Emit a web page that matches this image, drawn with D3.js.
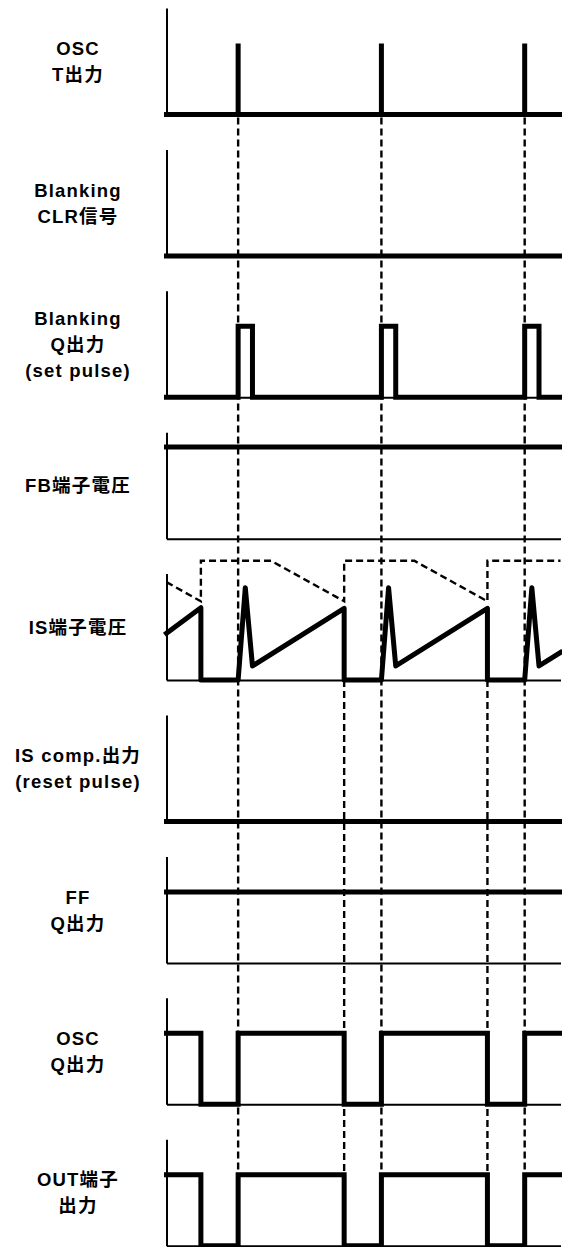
<!DOCTYPE html>
<html>
<head>
<meta charset="utf-8">
<script src="https://cdn.jsdelivr.net/npm/d3@7"></script>
<style>
  html, body { margin: 0; padding: 0; background: #fff; }
  svg { display: block; }
  text { font-family: "Liberation Sans", "Noto Sans CJK JP", sans-serif; font-weight: bold; }
</style>
</head>
<body>
<svg id="chart" width="562" height="1247"></svg>
<script>
// ---------- data ----------
const panelLabels = [
  ["OSC", "T出力"],
  ["Blanking", "CLR信号"],
  ["Blanking", "Q出力", "(set pulse)"],
  ["FB端子電圧"],
  ["IS端子電圧"],
  ["IS comp.出力", "(reset pulse)"],
  ["FF", "Q出力"],
  ["OSC", "Q出力"],
  ["OUT端子", "出力"]
];
const timeStart = 0.5, timeEnd = 3.25;
const oscPulseTimes = [1, 2, 3];          // OSC T output pulses (set)
const resetTimes = [0.74, 1.74, 2.74];    // IS comparator trips (reset)

// Digital / analog signals as [time, level]
const oscT = [[0.5,0],[1,0],[1,1],[1,0],[2,0],[2,1],[2,0],[3,0],[3,1],[3,0],[3.25,0]];
const blankingCLR = [[0.5,0],[3.25,0]];
const blankingQ = [[0.5,0],[1,0],[1,1],[1.1,1],[1.1,0],[2,0],[2,1],[2.1,1],[2.1,0],[3,0],[3,1],[3.1,1],[3.1,0],[3.25,0]];
const fbVoltage = [[0.5,1.29],[3.25,1.29]];
const isVoltage = [[0.5,0.66],[0.74,1.02],[0.74,0],[1,0],[1.05,1.30],[1.1,0.2],[1.74,1.01],[1.74,0],
                   [2,0],[2.05,1.30],[2.1,0.2],[2.74,1.01],[2.74,0],[3,0],[3.05,1.30],[3.1,0.2],[3.25,0.39]];
const isThreshold = [[0.5,1.38],[0.74,1.11],[0.74,1.68],[1.23,1.68],[1.74,1.11],[1.74,1.68],
                     [2.23,1.68],[2.74,1.11],[2.74,1.68],[3.25,1.68]];
const isComp = [[0.5,0],[3.25,0]];
const ffQ = [[0.5,1],[3.25,1]];
const oscQ = [[0.5,1],[0.74,1],[0.74,0],[1,0],[1,1],[1.74,1],[1.74,0],[2,0],[2,1],[2.74,1],[2.74,0],[3,0],[3,1],[3.25,1]];
const outPin = [[0.5,1],[0.74,1],[0.74,0],[1,0],[1,1],[1.74,1],[1.74,0],[2,0],[2,1],[2.74,1],[2.74,0],[3,0],[3,1],[3.25,1]];

const signals = [oscT, blankingCLR, blankingQ, fbVoltage, isVoltage, isComp, ffQ, oscQ, outPin];

// ---------- layout ----------
const svg = d3.select("#chart");
const firstTop = 8, panelStep = 141.4, panelHeight = 106.5;
const x = d3.scaleLinear().domain([timeStart, timeEnd]).range([166.5, 560.5]);
const yScales = panelLabels.map((_, i) => {
  const top = firstTop + i * panelStep;
  return d3.scaleLinear().domain([0, 1.5]).range([top + panelHeight, top]);
});

const line = (ys) => d3.line().x(d => x(d[0])).y(d => ys(d[1]));

// dashed guide lines
const lastY = yScales[8];
const guides = svg.append("g").attr("fill", "none").attr("stroke", "#000")
  .attr("stroke-width", 2.4).attr("stroke-dasharray", "7,4");
oscPulseTimes.forEach(t => {
  guides.append("line").attr("x1", x(t)).attr("x2", x(t))
    .attr("y1", yScales[0](0) + 3).attr("y2", lastY(0));
});
resetTimes.filter(t => t > 1).forEach(t => {
  guides.append("line").attr("x1", x(t)).attr("x2", x(t))
    .attr("y1", yScales[4](0)).attr("y2", lastY(0));
});
// IS threshold (dashed)
guides.append("path").attr("d", line(yScales[4])(isThreshold));

// panels
panelLabels.forEach((lbl, i) => {
  const ys = yScales[i];
  const g = svg.append("g");
  // axes (no ticks)
  g.append("g").attr("transform", `translate(${x(timeStart)},0)`)
    .call(d3.axisLeft(ys).tickValues([]).tickSizeOuter(0))
    .call(a => a.select(".domain").attr("stroke", "#000").attr("stroke-width", 2));
  g.append("g").attr("transform", `translate(0,${ys(0)})`)
    .call(d3.axisBottom(x).tickValues([]).tickSizeOuter(0))
    .call(a => a.select(".domain").attr("stroke", "#000").attr("stroke-width", 2));
  // signal
  g.append("path").attr("d", line(ys)(signals[i]))
    .attr("fill", "none").attr("stroke", "#000").attr("stroke-width", 5)
    .attr("stroke-linejoin", i === 4 ? "round" : "miter")
    .attr("stroke-linecap", "square");
  // label
  const mid = (ys(0) + ys(1.5)) / 2;
  const n = lbl.length;
  const t = g.append("text").attr("text-anchor", "middle").attr("font-size", 18.5)
    .attr("letter-spacing", 1.2).attr("fill", "#000");
  lbl.forEach((s, k) => {
    t.append("tspan").attr("x", 78).attr("y", mid + 7 - (n - 1) * 13 + k * 26).text(s);
  });
});
</script>
</body>
</html>
